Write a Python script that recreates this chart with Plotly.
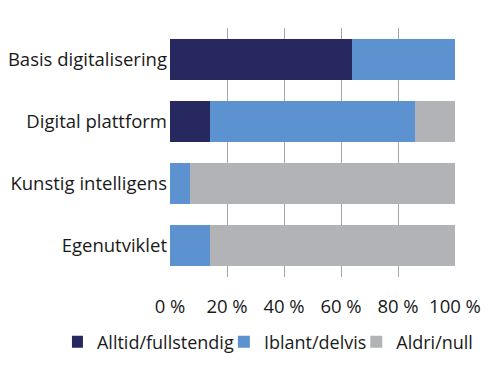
import plotly.graph_objects as go

categories = ["Basis digitalisering", "Digital plattform", "Kunstig intelligens", "Egenutviklet"]
series_names = ["Alltid/fullstendig", "Iblant/delvis", "Aldri/null"]
alltid = [64, 14, 0, 0]
iblant = [36, 72, 7, 14]
aldri = [0, 14, 93, 86]
tick_vals = [0, 20, 40, 60, 80, 100]
tick_text = ["0 %", "20 %", "40 %", "60 %", "80 %", "100 %"]

colors = ["#27285f", "#5b92cf", "#b2b3b6"]
FONT = "Open Sans"

fig = go.Figure()
for name, vals, col in zip(series_names, [alltid, iblant, aldri], colors):
    fig.add_trace(go.Bar(
        y=categories, x=vals, name=name, orientation="h",
        marker=dict(color=col, line=dict(width=0)),
        hoverinfo="x+y",
    ))

fig.update_layout(
    barmode="stack",
    bargap=0.34,
    width=500, height=383,
    margin=dict(l=162, r=53, t=20, b=114, autoexpand=False),
    paper_bgcolor="white", plot_bgcolor="white",
    font=dict(family=FONT, size=18, color="#1a1a1a"),
    showlegend=True,
    legend=dict(
        orientation="h",
        x=-0.344, xanchor="left", y=-0.261, yanchor="middle",
        font=dict(family=FONT, size=18, color="#1a1a1a"),
        itemwidth=30, indentation=-15, tracegroupgap=0, traceorder="normal",
    ),
    xaxis=dict(
        range=[0, 100], tickvals=tick_vals, ticktext=tick_text,
        showgrid=True, gridcolor="#a6a6a6", gridwidth=1.2,
        zeroline=False, showline=False, ticks="",
        ticklabelstandoff=16, automargin=False,
        tickfont=dict(family=FONT, size=18.5, color="#1a1a1a"),
        fixedrange=True,
    ),
    yaxis=dict(
        categoryorder="array", categoryarray=categories[::-1],
        showgrid=False, zeroline=False, showline=False, ticks="",
        automargin=False, ticklabelstandoff=2,
        tickfont=dict(family=FONT, size=18.5, color="#1a1a1a"),
        fixedrange=True,
    ),
)

fig.write_html("out.html")
